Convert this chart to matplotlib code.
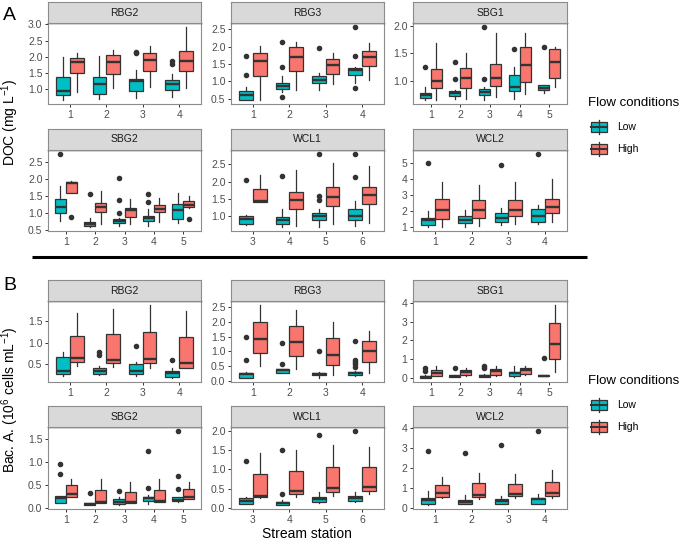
import matplotlib
matplotlib.use('Agg')
import matplotlib.pyplot as plt
from matplotlib.ticker import MultipleLocator, FormatStrFormatter
from matplotlib.patches import Rectangle

plt.rcParams['font.family'] = ['Liberation Sans', 'DejaVu Sans']
plt.rcParams['mathtext.fontset'] = 'custom'
plt.rcParams['mathtext.rm'] = 'Liberation Sans'
plt.rcParams['mathtext.it'] = 'Liberation Sans:italic'

W, H = 685, 542
LOW_COLOR = '#00BFC4'
HIGH_COLOR = '#F8766D'
EDGE = '#333333'

SITES = ['RBG2', 'RBG3', 'SBG1', 'SBG2', 'WCL1', 'WCL2']
STATIONS = [[1, 2, 3, 4], [1, 2, 3, 4], [1, 2, 3, 4, 5],
            [1, 2, 3, 4, 5], [3, 4, 5, 6], [1, 2, 3, 4]]

# box summaries per station: (lower whisker, q1, median, q3, upper whisker)
# --- A: DOC (mg/L) ---
A_RBG2_LOW = [(0.64, 0.81, 0.92, 1.36, 2.00), (0.68, 0.85, 1.14, 1.36, 2.03),
              (0.71, 0.92, 1.23, 1.30, 1.59), (0.73, 0.97, 1.15, 1.26, 1.46)]
A_RBG2_LOW_OUT = [[], [], [2.10, 2.15], [1.76, 1.87]]
A_RBG2_HIGH = [(0.89, 1.50, 1.83, 1.97, 2.10), (1.02, 1.46, 1.84, 2.04, 2.19),
               (1.05, 1.56, 1.90, 2.12, 2.34), (1.02, 1.56, 1.85, 2.18, 2.93)]
A_RBG2_HIGH_OUT = [[], [], [], []]

A_RBG3_LOW = [(0.45, 0.47, 0.60, 0.72, 0.84), (0.69, 0.79, 0.87, 0.96, 1.14),
              (0.76, 0.95, 1.03, 1.15, 1.25), (0.96, 1.18, 1.32, 1.39, 1.42)]
A_RBG3_LOW_OUT = [[1.17, 1.73], [0.55, 1.40, 2.15], [1.97], [0.80, 1.74, 2.58]]
A_RBG3_HIGH = [(0.47, 1.16, 1.58, 1.82, 2.03), (0.76, 1.29, 1.69, 1.98, 2.14),
               (0.91, 1.21, 1.47, 1.64, 1.83), (1.03, 1.45, 1.71, 1.88, 2.11)]
A_RBG3_HIGH_OUT = [[], [], [], []]

A_SBG1_LOW = [(0.65, 0.68, 0.74, 0.78, 0.88), (0.66, 0.72, 0.77, 0.81, 0.83),
              (0.65, 0.74, 0.80, 0.84, 0.88), (0.66, 0.81, 0.89, 1.10, 1.25),
              (0.78, 0.82, 0.87, 0.91, 0.91)]
A_SBG1_LOW_OUT = [[1.24], [1.03, 1.33], [1.03, 1.98], [1.58], [1.61]]
A_SBG1_HIGH = [(0.64, 0.86, 1.00, 1.21, 1.69), (0.67, 0.86, 1.04, 1.22, 1.50),
               (0.70, 0.90, 1.04, 1.30, 1.86), (0.76, 0.98, 1.28, 1.61, 1.86),
               (0.88, 1.04, 1.33, 1.57, 1.61)]
A_SBG1_HIGH_OUT = [[], [], [], [], []]

A_SBG2_LOW = [(0.76, 0.99, 1.18, 1.42, 1.79), (0.57, 0.60, 0.67, 0.72, 0.86),
              (0.62, 0.69, 0.76, 0.81, 0.86), (0.62, 0.76, 0.86, 0.91, 1.11),
              (0.70, 0.83, 1.08, 1.25, 1.60)]
A_SBG2_LOW_OUT = [[2.75], [1.55], [0.99, 1.38, 2.02], [1.32, 1.55], []]
A_SBG2_HIGH = [(1.60, 1.60, 1.89, 1.91, 1.93), (0.67, 1.01, 1.16, 1.28, 1.65),
               (0.67, 0.89, 1.08, 1.14, 1.40), (0.72, 1.01, 1.11, 1.23, 1.43),
               (1.13, 1.16, 1.23, 1.35, 1.50)]
A_SBG2_HIGH_OUT = [[0.89], [], [], [], [0.81]]

A_WCL1_LOW = [(0.74, 0.79, 0.92, 1.02, 1.05), (0.68, 0.78, 0.88, 0.98, 1.21),
              (0.68, 0.88, 1.00, 1.08, 1.21), (0.71, 0.90, 1.02, 1.22, 1.43)]
A_WCL1_LOW_OUT = [[2.06], [2.17], [1.48, 1.58, 2.80], [2.13, 2.81]]
A_WCL1_HIGH = [(1.40, 1.40, 1.43, 1.80, 2.18), (0.71, 1.22, 1.46, 1.70, 2.35),
               (0.78, 1.29, 1.56, 1.85, 2.54), (0.81, 1.36, 1.61, 1.85, 2.44)]
A_WCL1_HIGH_OUT = [[], [], [], []]

A_WCL2_LOW = [(1.00, 1.15, 1.46, 1.56, 1.98), (1.04, 1.25, 1.46, 1.73, 2.08),
              (1.15, 1.31, 1.60, 1.88, 2.19), (1.19, 1.35, 1.67, 2.13, 2.40)]
A_WCL2_LOW_OUT = [[5.00], [], [4.85], [5.56]]
A_WCL2_HIGH = [(1.00, 1.50, 2.08, 2.77, 3.81), (1.10, 1.60, 2.08, 2.67, 3.65),
               (1.19, 1.67, 2.08, 2.67, 3.81), (1.31, 1.88, 2.25, 2.77, 4.00)]
A_WCL2_HIGH_OUT = [[], [], [], []]

# --- B: bacterial abundance (10^6 cells/mL) ---
B_RBG2_LOW = [(0.22, 0.28, 0.35, 0.67, 0.79), (0.25, 0.28, 0.34, 0.42, 0.46),
              (0.22, 0.26, 0.34, 0.50, 0.56), (0.17, 0.20, 0.29, 0.34, 0.42)]
B_RBG2_LOW_OUT = [[], [0.72, 0.79], [0.92], [0.60]]
B_RBG2_HIGH = [(0.46, 0.55, 0.64, 1.17, 1.70), (0.44, 0.52, 0.59, 1.21, 1.80),
               (0.42, 0.52, 0.62, 1.25, 1.89), (0.41, 0.42, 0.52, 1.13, 1.74)]
B_RBG2_HIGH_OUT = [[], [], [], []]

B_RBG3_LOW = [(0.09, 0.11, 0.22, 0.26, 0.31), (0.26, 0.26, 0.36, 0.39, 0.41),
              (0.11, 0.19, 0.24, 0.28, 0.30), (0.17, 0.20, 0.28, 0.31, 0.33)]
B_RBG3_LOW_OUT = [[0.70, 1.48], [0.59, 1.30], [1.02], [0.48, 0.56, 0.63, 0.70, 1.36]]
B_RBG3_HIGH = [(0.50, 0.94, 1.41, 1.98, 2.58), (0.41, 0.86, 1.33, 1.86, 2.39),
               (0.19, 0.53, 0.89, 1.44, 1.98), (0.28, 0.64, 1.02, 1.36, 1.70)]
B_RBG3_HIGH_OUT = [[], [], [], []]

B_SBG1_LOW = [(0.00, 0.02, 0.07, 0.10, 0.17), (0.05, 0.05, 0.10, 0.14, 0.17),
              (0.05, 0.05, 0.14, 0.17, 0.22), (0.05, 0.10, 0.28, 0.36, 0.66),
              (0.10, 0.10, 0.14, 0.17, 0.17)]
B_SBG1_LOW_OUT = [[0.40, 0.52], [0.52], [0.52, 0.66], [], [1.09]]
B_SBG1_HIGH = [(0.10, 0.14, 0.28, 0.45, 0.66), (0.10, 0.17, 0.35, 0.45, 0.57),
               (0.14, 0.17, 0.40, 0.48, 0.66), (0.17, 0.22, 0.43, 0.52, 0.66),
               (0.31, 1.04, 1.83, 2.91, 3.89)]
B_SBG1_HIGH_OUT = [[], [], [], [], []]

B_SBG2_LOW = [(0.11, 0.11, 0.20, 0.26, 0.26), (0.05, 0.05, 0.07, 0.09, 0.11),
              (0.05, 0.07, 0.13, 0.18, 0.24), (0.07, 0.14, 0.20, 0.24, 0.27),
              (0.13, 0.14, 0.16, 0.22, 0.22)]
B_SBG2_LOW_OUT = [[0.74, 0.94], [0.31], [0.37], [0.42, 1.24], [0.41, 0.68, 1.67]]
B_SBG2_HIGH = [(0.22, 0.24, 0.30, 0.48, 0.63), (0.11, 0.11, 0.13, 0.39, 0.63),
               (0.10, 0.10, 0.13, 0.33, 0.56), (0.13, 0.13, 0.15, 0.39, 0.63),
               (0.19, 0.19, 0.22, 0.40, 0.56)]
B_SBG2_HIGH_OUT = [[], [], [], [], []]

B_WCL1_LOW = [(0.10, 0.10, 0.19, 0.27, 0.29), (0.07, 0.07, 0.13, 0.16, 0.20),
              (0.12, 0.16, 0.22, 0.29, 0.41), (0.16, 0.19, 0.27, 0.32, 0.41)]
B_WCL1_LOW_OUT = [[1.22], [0.36, 1.51], [1.90], [2.00]]
B_WCL1_HIGH = [(0.27, 0.29, 0.32, 0.88, 1.42), (0.29, 0.35, 0.44, 0.97, 1.50),
               (0.32, 0.41, 0.53, 1.07, 1.62), (0.35, 0.44, 0.54, 1.06, 1.58)]
B_WCL1_HIGH_OUT = [[], [], [], []]

B_WCL2_LOW = [(0.12, 0.17, 0.39, 0.47, 0.84), (0.17, 0.17, 0.30, 0.39, 0.62),
              (0.20, 0.20, 0.34, 0.42, 0.59), (0.20, 0.20, 0.42, 0.47, 0.71)]
B_WCL2_LOW_OUT = [[2.86], [2.77], [3.14], [3.87]]
B_WCL2_HIGH = [(0.50, 0.55, 0.72, 1.13, 1.56), (0.42, 0.54, 0.64, 1.23, 1.76),
               (0.47, 0.59, 0.71, 1.21, 1.68), (0.47, 0.59, 0.76, 1.31, 1.88)]
B_WCL2_HIGH_OUT = [[], [], [], []]

A_TICK_STEP = [0.5, 0.5, 0.5, 0.5, 0.5, 1]
B_TICK_STEP = [0.5, 0.5, 1, 0.5, 0.5, 1]

PANELS_A = [
    (A_RBG2_LOW, A_RBG2_LOW_OUT, A_RBG2_HIGH, A_RBG2_HIGH_OUT),
    (A_RBG3_LOW, A_RBG3_LOW_OUT, A_RBG3_HIGH, A_RBG3_HIGH_OUT),
    (A_SBG1_LOW, A_SBG1_LOW_OUT, A_SBG1_HIGH, A_SBG1_HIGH_OUT),
    (A_SBG2_LOW, A_SBG2_LOW_OUT, A_SBG2_HIGH, A_SBG2_HIGH_OUT),
    (A_WCL1_LOW, A_WCL1_LOW_OUT, A_WCL1_HIGH, A_WCL1_HIGH_OUT),
    (A_WCL2_LOW, A_WCL2_LOW_OUT, A_WCL2_HIGH, A_WCL2_HIGH_OUT),
]
PANELS_B = [
    (B_RBG2_LOW, B_RBG2_LOW_OUT, B_RBG2_HIGH, B_RBG2_HIGH_OUT),
    (B_RBG3_LOW, B_RBG3_LOW_OUT, B_RBG3_HIGH, B_RBG3_HIGH_OUT),
    (B_SBG1_LOW, B_SBG1_LOW_OUT, B_SBG1_HIGH, B_SBG1_HIGH_OUT),
    (B_SBG2_LOW, B_SBG2_LOW_OUT, B_SBG2_HIGH, B_SBG2_HIGH_OUT),
    (B_WCL1_LOW, B_WCL1_LOW_OUT, B_WCL1_HIGH, B_WCL1_HIGH_OUT),
    (B_WCL2_LOW, B_WCL2_LOW_OUT, B_WCL2_HIGH, B_WCL2_HIGH_OUT),
]

# pixel layout
COLS = [(48, 201), (231, 384), (413, 567)]
ROWS_A = [(2, 104), (129, 231)]
ROWS_B = [(280, 382), (406, 509)]
STRIP_H = 21


def px_axes(fig, x0, y0, x1, y1):
    return fig.add_axes([x0 / W, 1 - y1 / H, (x1 - x0) / W, (y1 - y0) / H])


def to_stats(boxes, outs):
    return [dict(whislo=b[0], q1=b[1], med=b[2], q3=b[3], whishi=b[4], fliers=o)
            for b, o in zip(boxes, outs)]


def draw_panel(fig, box, site, stations, data, step):
    x0, x1, y0, y1 = box
    ax = px_axes(fig, x0, y0 + STRIP_H, x1, y1)
    low, low_out, high, high_out = data
    pos = list(range(1, len(stations) + 1))
    for boxes, outs, col, off in ((low, low_out, LOW_COLOR, -0.1875),
                                  (high, high_out, HIGH_COLOR, 0.1875)):
        ax.bxp(to_stats(boxes, outs), positions=[p + off for p in pos],
               widths=0.375, patch_artist=True, showcaps=False,
               boxprops=dict(facecolor=col, edgecolor=EDGE, linewidth=0.9),
               medianprops=dict(color=EDGE, linewidth=1.7),
               whiskerprops=dict(color=EDGE, linewidth=0.9),
               flierprops=dict(marker='o', markersize=3, markerfacecolor=EDGE,
                               markeredgecolor=EDGE, linestyle='none'),
               manage_ticks=False)
    vals = [v for b in low + high for v in b]
    vals += [v for o in low_out + high_out for v in o]
    lo, hi = min(vals), max(vals)
    pad = 0.05 * (hi - lo)
    ax.set_ylim(lo - pad, hi + pad)
    ax.set_xlim(0.4, len(stations) + 0.6)
    ax.set_xticks(pos)
    ax.set_xticklabels([str(s) for s in stations])
    ax.yaxis.set_major_locator(MultipleLocator(step))
    ax.yaxis.set_major_formatter(FormatStrFormatter('%.1f' if step < 1 else '%d'))
    ax.tick_params(axis='both', labelsize=7.5, colors='#4D4D4D', length=2.5,
                   width=0.7, pad=1.5)
    ax.tick_params(axis='both', color='#333333')
    for name, sp in ax.spines.items():
        sp.set_color('#8C8C8C')
        sp.set_linewidth(0.8)
    ax.spines['top'].set_color('#333333')
    ax.spines['top'].set_linewidth(1.0)

    sax = px_axes(fig, x0, y0, x1, y0 + STRIP_H)
    sax.set_facecolor('#D9D9D9')
    sax.set_xticks([])
    sax.set_yticks([])
    for sp in sax.spines.values():
        sp.set_color('#8C8C8C')
        sp.set_linewidth(0.8)
    sax.text(0.5, 0.5, site, ha='center', va='center', fontsize=7.5,
             color='#1A1A1A', transform=sax.transAxes)


def draw_legend(ov, y_title):
    ov.text(588, y_title, 'Flow conditions', fontsize=9.5, va='center', ha='left')
    for i, (lab, col) in enumerate((('Low', LOW_COLOR), ('High', HIGH_COLOR))):
        cy = y_title + 24 + 22 * i
        ov.plot([599, 599], [cy - 7, cy + 7], color=EDGE, lw=0.9)
        ov.add_patch(Rectangle((591, cy - 5), 16, 10, facecolor=col,
                               edgecolor=EDGE, lw=0.9))
        ov.plot([591, 607], [cy, cy], color=EDGE, lw=1.5)
        ov.text(617, cy, lab, fontsize=7.5, va='center', ha='left')


fig = plt.figure(figsize=(W / 100, H / 100), dpi=100)

for rows, panels, steps in ((ROWS_A, PANELS_A, A_TICK_STEP),
                            (ROWS_B, PANELS_B, B_TICK_STEP)):
    for k, site in enumerate(SITES):
        r, c = divmod(k, 3)
        x0, x1 = COLS[c]
        y0, y1 = rows[r]
        draw_panel(fig, (x0, x1, y0, y1), site, STATIONS[k], panels[k], steps[k])

# overlay in pixel coordinates for labels, divider and legends
ov = fig.add_axes([0, 0, 1, 1], facecolor='none')
ov.set_xlim(0, W)
ov.set_ylim(H, 0)
ov.axis('off')

ov.plot([32, 587], [257, 257], color='black', lw=2.2, solid_capstyle='butt')
ov.text(9, 16, 'A', fontsize=14, ha='center', va='center')
ov.text(10, 286, 'B', fontsize=14, ha='center', va='center')
ov.text(10, 122, 'DOC (mg L$^{-1}$)', fontsize=10, rotation=90,
        ha='center', va='center')
ov.text(10, 400, 'Bac. A. (10$^{6}$ cells mL$^{-1}$)', fontsize=10,
        rotation=90, ha='center', va='center')
ov.text(307, 534, 'Stream station', fontsize=10, ha='center', va='center')
draw_legend(ov, 103)
draw_legend(ov, 381)

fig.savefig('out.png', dpi=100)
